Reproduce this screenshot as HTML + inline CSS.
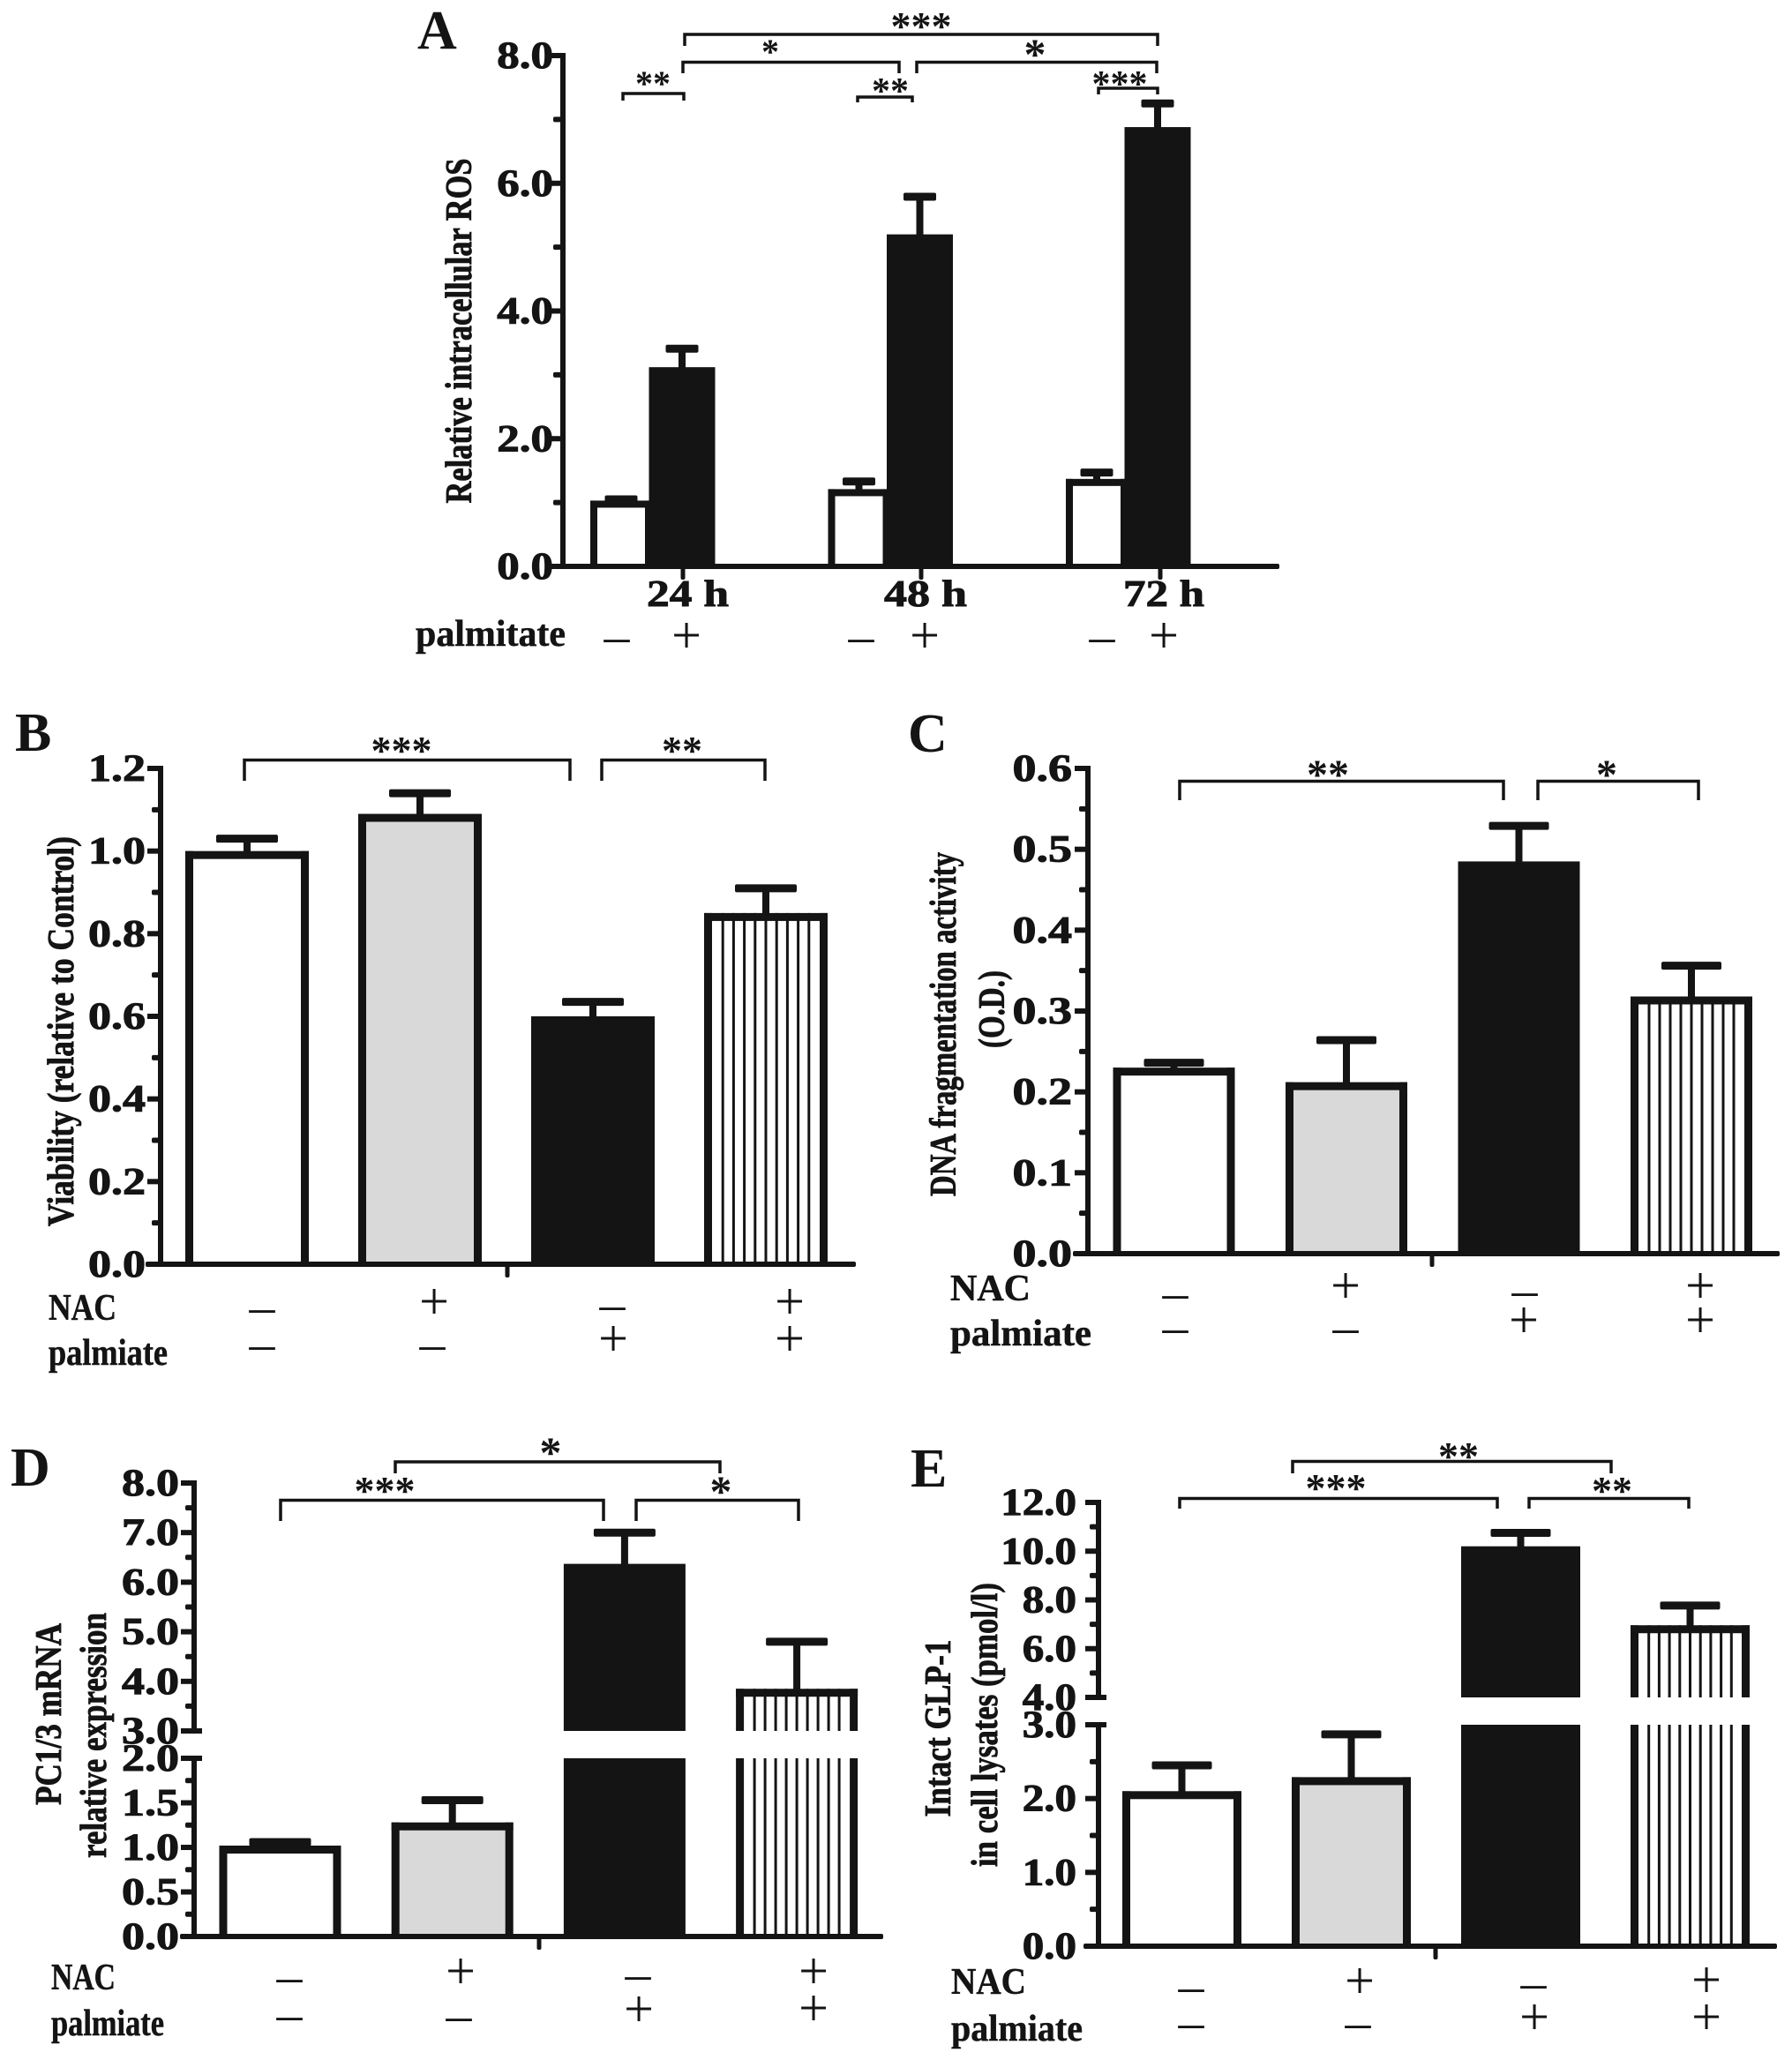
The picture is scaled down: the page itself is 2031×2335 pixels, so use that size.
<!DOCTYPE html>
<html lang="en">
<head>
<meta charset="utf-8">
<title>Palmitate and NAC effects on ROS, viability, DNA fragmentation, PC1/3 mRNA and GLP-1</title>
<style>
html,body{margin:0;padding:0;background:#fff}
svg{display:block}
text{font-family:"Liberation Serif",serif;fill:#141414}
.b{font-weight:bold;stroke:#141414;stroke-width:.9}
.tick{font-weight:bold;font-size:43px;stroke:#141414;stroke-width:1}
.panel{font-weight:bold;font-size:62px}
.title{font-weight:bold;font-size:42px;text-anchor:middle;stroke:#141414;stroke-width:.8}
.row{font-weight:bold;font-size:42px;stroke:#141414;stroke-width:.5}
.s{font-weight:bold;text-anchor:middle}
.plus{font-size:60px;text-anchor:middle;transform:translateY(3px)}
.minus{font-size:58px;text-anchor:middle}
.br{fill:none;stroke:#141414;stroke-width:3.5}
</style>
</head>
<body>
<svg id="figure" xmlns="http://www.w3.org/2000/svg" width="2031" height="2335" viewBox="0 0 2031 2335">
<rect width="2031" height="2335" fill="#fff"/>

<g id="panel-a"></g>
<g id="panel-b"></g>
<g id="panel-c"></g>
<g id="panel-d"></g>
<g id="panel-e"></g>

<!-- Panel A annotations -->
<text class="panel" x="473" y="55">A</text>
<text class="title" transform="translate(534 375) rotate(-90)" textLength="391" lengthAdjust="spacingAndGlyphs">Relative intracellular ROS</text>
<text class="b" style="font-size:42px" x="733" y="687" textLength="93" lengthAdjust="spacingAndGlyphs">24 h</text>
<text class="b" style="font-size:42px" x="1002" y="687" textLength="94" lengthAdjust="spacingAndGlyphs">48 h</text>
<text class="b" style="font-size:42px" x="1273" y="687" textLength="92" lengthAdjust="spacingAndGlyphs">72 h</text>
<text class="row" x="471" y="732" textLength="170" lengthAdjust="spacingAndGlyphs">palmitate</text>
<text class="minus" x="699" y="740">–</text>
<text class="plus" x="778" y="737">+</text>
<text class="minus" x="976" y="740">–</text>
<text class="plus" x="1048" y="737">+</text>
<text class="minus" x="1249" y="740">–</text>
<text class="plus" x="1319" y="737">+</text>
<path class="br" d="M776 52V39H1312V52"/>
<text class="s" style="font-size:46px" x="1044" y="45">***</text>
<path class="br" d="M774 83V70.500H1019V83"/>
<text class="s" style="font-size:40px" x="873" y="72">*</text>
<path class="br" d="M1039 83V70.500H1311V83"/>
<text class="s" style="font-size:50px" x="1173" y="78">*</text>
<path class="br" d="M706 114V106H775V114"/>
<text class="s" style="font-size:40px" x="740" y="108">**</text>
<path class="br" d="M972 116V110H1034V116"/>
<text class="s" style="font-size:42px" x="1009" y="117">**</text>
<path class="br" d="M1245 107V100H1312V107"/>
<text class="s" style="font-size:42px" x="1269" y="109">***</text>

<!-- Panel B annotations -->
<text class="panel" x="17" y="851">B</text>
<text class="title" transform="translate(83 1169) rotate(-90)" textLength="442" lengthAdjust="spacingAndGlyphs">Viability (relative to Control)</text>
<text class="row" x="55" y="1496" textLength="77" lengthAdjust="spacingAndGlyphs">NAC</text>
<text class="row" x="55" y="1547" textLength="135" lengthAdjust="spacingAndGlyphs">palmiate</text>
<text class="minus" x="297" y="1500">–</text>
<text class="plus" x="492" y="1492">+</text>
<text class="minus" x="694" y="1497">–</text>
<text class="plus" x="895" y="1492">+</text>
<text class="minus" x="297" y="1542">–</text>
<text class="minus" x="490" y="1542">–</text>
<text class="plus" x="695" y="1534">+</text>
<text class="plus" x="895" y="1534">+</text>
<path class="br" d="M277 885V861.500H646V885"/>
<text class="s" style="font-size:46px" x="455" y="866">***</text>
<path class="br" d="M682 885V861.500H867V885"/>
<text class="s" style="font-size:46px" x="773" y="866">**</text>

<!-- Panel C annotations -->
<text class="panel" x="1029" y="852">C</text>
<text class="title" transform="translate(1083 1161) rotate(-90)" textLength="390" lengthAdjust="spacingAndGlyphs">DNA fragmentation activity</text>
<text class="title" transform="translate(1138 1144) rotate(-90)" textLength="88" lengthAdjust="spacingAndGlyphs">(O.D.)</text>
<text class="row" x="1077" y="1474" textLength="91" lengthAdjust="spacingAndGlyphs">NAC</text>
<text class="row" x="1077" y="1525" textLength="160" lengthAdjust="spacingAndGlyphs">palmiate</text>
<text class="minus" x="1332" y="1484">–</text>
<text class="plus" x="1525" y="1474">+</text>
<text class="minus" x="1728" y="1481">–</text>
<text class="plus" x="1927" y="1474">+</text>
<text class="minus" x="1332" y="1523">–</text>
<text class="minus" x="1525" y="1523">–</text>
<text class="plus" x="1727" y="1513">+</text>
<text class="plus" x="1927" y="1513">+</text>
<path class="br" d="M1337 907V885.500H1704V907"/>
<text class="s" style="font-size:48px" x="1505" y="894">**</text>
<path class="br" d="M1743 907V885.500H1925V907"/>
<text class="s" style="font-size:48px" x="1821" y="894">*</text>

<!-- Panel D annotations -->
<text class="panel" x="12" y="1684">D</text>
<text class="title" transform="translate(69 1943) rotate(-90)" textLength="206" lengthAdjust="spacingAndGlyphs">PC1/3 mRNA</text>
<text class="title" transform="translate(120 1967) rotate(-90)" textLength="278" lengthAdjust="spacingAndGlyphs">relative expression</text>
<text class="row" x="58" y="2255" textLength="73" lengthAdjust="spacingAndGlyphs">NAC</text>
<text class="row" x="58" y="2307" textLength="128" lengthAdjust="spacingAndGlyphs">palmiate</text>
<text class="minus" x="328" y="2259">–</text>
<text class="plus" x="522" y="2251">+</text>
<text class="minus" x="723" y="2256">–</text>
<text class="plus" x="922" y="2251">+</text>
<text class="minus" x="328" y="2302">–</text>
<text class="minus" x="520" y="2303">–</text>
<text class="plus" x="724" y="2294">+</text>
<text class="plus" x="922" y="2293">+</text>
<path class="br" d="M448 1670V1657H816V1670"/>
<text class="s" style="font-size:50px" x="624" y="1663">*</text>
<path class="br" d="M318 1724V1700.500H684V1724"/>
<text class="s" style="font-size:46px" x="436" y="1705">***</text>
<path class="br" d="M721 1724V1700.500H905V1724"/>
<text class="s" style="font-size:50px" x="817" y="1707">*</text>

<!-- Panel E annotations -->
<text class="panel" x="1032" y="1685">E</text>
<text class="title" transform="translate(1077 1959) rotate(-90)" textLength="201" lengthAdjust="spacingAndGlyphs">Intact GLP-1</text>
<text class="title" transform="translate(1130 1955) rotate(-90)" textLength="322" lengthAdjust="spacingAndGlyphs">in cell lysates (pmol/l)</text>
<text class="row" x="1078" y="2260" textLength="85" lengthAdjust="spacingAndGlyphs">NAC</text>
<text class="row" x="1078" y="2313" textLength="149" lengthAdjust="spacingAndGlyphs">palmiate</text>
<text class="minus" x="1350" y="2270">–</text>
<text class="plus" x="1541" y="2262">+</text>
<text class="minus" x="1738" y="2266">–</text>
<text class="plus" x="1934" y="2261">+</text>
<text class="minus" x="1350" y="2311">–</text>
<text class="minus" x="1539" y="2311">–</text>
<text class="plus" x="1739" y="2303">+</text>
<text class="plus" x="1934" y="2303">+</text>
<path class="br" d="M1465 1670V1656.500H1826V1670"/>
<text class="s" style="font-size:46px" x="1653" y="1666">**</text>
<path class="br" d="M1337 1710V1698.500H1697V1710"/>
<text class="s" style="font-size:46px" x="1514" y="1702">***</text>
<path class="br" d="M1733 1710V1698.500H1914V1710"/>
<text class="s" style="font-size:46px" x="1827" y="1705">**</text>
</svg>

<script>
// ---- Panel A data ----
const panelA_categories = ['24h-control', '24h-palmitate', '48h-control', '48h-palmitate', '72h-control', '72h-palmitate'];
const panelA_values = [1.03, 3.12, 1.21, 5.2, 1.37, 6.88];
const panelA_errorTops = [1.05, 3.41, 1.33, 5.79, 1.47, 7.25];
const panelA_ticks = [0, 2, 4, 6, 8];
const panelA_tickLabels = ['0.0', '2.0', '4.0', '6.0', '8.0'];

// ---- Panel B data ----
const panelB_categories = ['control', 'nac', 'palmitate', 'nac-palmitate'];
const panelB_values = [1.0, 1.09, 0.6, 0.85];
const panelB_errorTops = [1.03, 1.14, 0.635, 0.91];
const panelB_ticks = [0, 0.2, 0.4, 0.6, 0.8, 1.0, 1.2];
const panelB_tickLabels = ['0.0', '0.2', '0.4', '0.6', '0.8', '1.0', '1.2'];

// ---- Panel C data ----
const panelC_categories = ['control', 'nac', 'palmitate', 'nac-palmitate'];
const panelC_values = [0.23, 0.212, 0.485, 0.318];
const panelC_errorTops = [0.236, 0.264, 0.529, 0.356];
const panelC_ticks = [0, 0.1, 0.2, 0.3, 0.4, 0.5, 0.6];
const panelC_tickLabels = ['0.0', '0.1', '0.2', '0.3', '0.4', '0.5', '0.6'];

// ---- Panel D data (broken axis) ----
const panelD_categories = ['control', 'nac', 'palmitate', 'nac-palmitate'];
const panelD_values = [1.02, 1.28, 6.37, 3.85];
const panelD_errorTops = [1.06, 1.53, 7.0, 4.8];
const panelD_lowerTicks = [0, 0.5, 1.0, 1.5, 2.0];
const panelD_lowerLabels = ['0.0', '0.5', '1.0', '1.5', '2.0'];
const panelD_upperTicks = [3, 4, 5, 6, 7, 8];
const panelD_upperLabels = ['3.0', '4.0', '5.0', '6.0', '7.0', '8.0'];

// ---- Panel E data (broken axis) ----
const panelE_categories = ['control', 'nac', 'palmitate', 'nac-palmitate'];
const panelE_values = [2.1, 2.29, 10.2, 6.96];
const panelE_errorTops = [2.45, 2.87, 10.75, 7.77];
const panelE_lowerTicks = [0, 1, 2, 3];
const panelE_lowerLabels = ['0.0', '1.0', '2.0', '3.0'];
const panelE_upperTicks = [4, 6, 8, 10, 12];
const panelE_upperLabels = ['4.0', '6.0', '8.0', '10.0', '12.0'];

const SVG_NS = 'http://www.w3.org/2000/svg';
const INK = '#141414';
const GREY = '#d9d9d9';

function node(tag, attrs, parent) {
  const el = document.createElementNS(SVG_NS, tag);
  for (const k in attrs) el.setAttribute(k, attrs[k]);
  parent.appendChild(el);
  return el;
}

function linearAxis(min, max, y0, y1) {
  return function (v) { return y0 + (v - min) / (max - min) * (y1 - y0); };
}

function labelWidth(label, perEm) {
  let em = 0;
  for (const ch of label) em += ch === '.' ? 0.25 : 0.5;
  return em * perEm;
}

function drawAxisSegment(root, p, seg) {
  const scale = linearAxis(seg.min, seg.max, seg.y0, seg.y1);
  const spine = node('rect', { x: p.axisX - 3, y: seg.y1 - 3, width: 6, height: seg.y0 - seg.y1 + 6, fill: INK }, root);
  
  

  seg.ticks.forEach(function (t, i) {
    const y = scale(t);
    const extra = t === seg.min && seg.min > 0 || seg.breakTop && t === seg.max ? 9 : 0;
    const tick = node('rect', { x: p.axisX - p.majorLen, y: y - 3, width: p.majorLen + extra, height: 6, fill: INK }, root);
    
    

    const lab = node('text', { class: 'tick', x: p.labelRight, y: y + 14, 'text-anchor': 'end', textLength: labelWidth(seg.labels[i], p.labelEm), lengthAdjust: 'spacingAndGlyphs' }, root);
    lab.textContent = seg.labels[i];
    
    

    if (i < seg.ticks.length - 1) {
      const my = scale((t + seg.ticks[i + 1]) / 2);
      const minor = node('rect', { x: p.axisX - p.minorLen, y: my - 3, width: p.minorLen, height: 6, rx: 2, fill: INK }, root);
      
      
    }
  });
}

function drawBarSegment(group, p, i, seg, kind) {
  const value = p.values[i];
  if (value <= seg.min) return;
  const scale = linearAxis(seg.min, seg.max, seg.y0, seg.y1);
  const clipped = Math.min(value, seg.max);
  const top = scale(clipped);
  const base = scale(seg.min);
  const x = p.barX(i);
  const w = p.barW(i);
  const bw = p.border;
  const hasTop = value <= seg.max;

  if (kind === 'black') {
    node('rect', { x: x, y: top, width: w, height: base - top, rx: 0, fill: INK }, group);
    return;
  }
  node('rect', { x: x, y: top, width: w, height: base - top, fill: kind === 'grey' ? GREY : '#fff' }, group);
  if (kind === 'stripe') {
    for (let n = 1; n <= 9; n++) {
      const lx = x + bw + (w - 2 * bw) * n / 10;
      node('rect', { x: lx - 1.5, y: top, width: 3, height: base - top, fill: INK }, group);
    }
  }
  node('rect', { x: x, y: top, width: bw, height: base - top, fill: INK }, group);
  node('rect', { x: x + w - bw, y: top, width: bw, height: base - top, fill: INK }, group);
  if (hasTop) node('rect', { x: x, y: top, width: w, height: bw, fill: INK }, group);
}

function drawPanel(p) {
  const root = document.getElementById(p.id);
  const segOf = function (v) {
    for (const s of p.segments) if (v <= s.max) return s;
    return p.segments[p.segments.length - 1];
  };
  p.categories.forEach(function (cat, i) {
    const group = node('g', {}, root);
    
    
    p.segments.forEach(function (seg) { drawBarSegment(group, p, i, seg, p.kinds[i]); });

    const vSeg = segOf(p.values[i]);
    const eSeg = segOf(p.errorTops[i]);
    const barTop = linearAxis(vSeg.min, vSeg.max, vSeg.y0, vSeg.y1)(p.values[i]);
    const capY = linearAxis(eSeg.min, eSeg.max, eSeg.y0, eSeg.y1)(p.errorTops[i]);
    const cx = p.barX(i) + p.barW(i) / 2;

    const err = node('g', {}, root);
    
    
    node('rect', { x: cx - 4, y: capY, width: 8, height: Math.max(0, barTop - capY + 2), fill: INK }, err);
    node('rect', { x: cx - p.capW / 2, y: capY - 4.5, width: p.capW, height: 9, rx: 2, fill: INK }, err);
  });

  p.segments.forEach(function (seg) { drawAxisSegment(root, p, seg); });

  const baseY = p.segments[0].y0;
  const xAxis = node('rect', { x: p.xStart, y: baseY - 3, width: p.xEnd - p.xStart, height: 6, rx: 2, fill: INK }, root);
  
  

  p.xTicks.forEach(function (tx) {
    const t = node('rect', { x: tx - 2.5, y: baseY, width: 5, height: 15, rx: 2, fill: INK }, root);
    
    
  });
}

drawPanel({
  id: 'panel-a', name: 'a',
  categories: panelA_categories, values: panelA_values, errorTops: panelA_errorTops,
  kinds: ['white', 'black', 'white', 'black', 'white', 'black'],
  barX: function (i) { const g = Math.floor(i / 2); return 669 + g * 269.5 + (i % 2) * 66.5; },
  barW: function (i) { return i % 2 ? 75 : 70; },
  border: 8, capW: 37,
  axisX: 638, majorLen: 13, minorLen: 11, labelRight: 627, labelEm: 51,
  xStart: 624, xEnd: 1450,
  xTicks: [774, 1044, 1315],
  segments: [{ min: 0, max: 8, y0: 642, y1: 63, ticks: panelA_ticks, labels: panelA_tickLabels }]
});

drawPanel({
  id: 'panel-b', name: 'b',
  categories: panelB_categories, values: panelB_values, errorTops: panelB_errorTops,
  kinds: ['white', 'grey', 'black', 'stripe'],
  barX: function (i) { return 210 + i * 196; },
  barW: function () { return 140; },
  border: 9, capW: 70,
  axisX: 182, majorLen: 15, minorLen: 10, labelRight: 165, labelEm: 52,
  xStart: 165, xEnd: 970,
  xTicks: [575],
  segments: [{ min: 0, max: 1.2, y0: 1433, y1: 871, ticks: panelB_ticks, labels: panelB_tickLabels }]
});

drawPanel({
  id: 'panel-c', name: 'c',
  categories: panelC_categories, values: panelC_values, errorTops: panelC_errorTops,
  kinds: ['white', 'grey', 'black', 'stripe'],
  barX: function (i) { return 1261.5 + i * 195.5; },
  barW: function () { return 138; },
  border: 9, capW: 68,
  axisX: 1233, majorLen: 15, minorLen: 10, labelRight: 1215, labelEm: 54,
  xStart: 1216, xEnd: 2017,
  xTicks: [1623],
  segments: [{ min: 0, max: 0.6, y0: 1421, y1: 871, ticks: panelC_ticks, labels: panelC_tickLabels }]
});

drawPanel({
  id: 'panel-d', name: 'd',
  categories: panelD_categories, values: panelD_values, errorTops: panelD_errorTops,
  kinds: ['white', 'grey', 'black', 'stripe'],
  barX: function (i) { return 248.5 + i * 195.2; },
  barW: function () { return 138; },
  border: 9, capW: 70,
  axisX: 220, majorLen: 15, minorLen: 10, labelRight: 203, labelEm: 52,
  xStart: 204, xEnd: 1001,
  xTicks: [611],
  segments: [
    { min: 0, max: 2, y0: 2195, y1: 1993, ticks: panelD_lowerTicks, labels: panelD_lowerLabels, breakTop: true },
    { min: 3, max: 8, y0: 1962, y1: 1681, ticks: panelD_upperTicks, labels: panelD_upperLabels }
  ]
});

drawPanel({
  id: 'panel-e', name: 'e',
  categories: panelE_categories, values: panelE_values, errorTops: panelE_errorTops,
  kinds: ['white', 'grey', 'black', 'stripe'],
  barX: function (i) { return 1272 + i * 192; },
  barW: function () { return 135; },
  border: 9, capW: 68,
  axisX: 1245, majorLen: 15, minorLen: 10, labelRight: 1220, labelEm: 49,
  xStart: 1228, xEnd: 2014,
  xTicks: [1627],
  segments: [
    { min: 0, max: 3, y0: 2206, y1: 1955, ticks: panelE_lowerTicks, labels: panelE_lowerLabels, breakTop: true },
    { min: 4, max: 12, y0: 1924, y1: 1703, ticks: panelE_upperTicks, labels: panelE_upperLabels }
  ]
});
</script>
</body>
</html>
